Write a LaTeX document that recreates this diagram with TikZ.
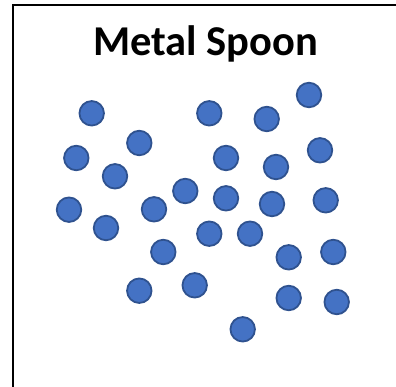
\documentclass[tikz,border=0pt]{standalone}
\usepackage{fontspec}
\setmainfont{Carlito}
\definecolor{atomfill}{RGB}{68, 114, 196}
\definecolor{atomedge}{RGB}{47, 82, 143}
\usetikzlibrary{positioning}

\begin{document}
\begin{tikzpicture}[x=1pt, y=-1pt,
  atom/.style={circle, draw=atomedge, fill=atomfill, line width=1.8pt, minimum size=24.5pt, inner sep=0pt},
  title/.style={font=\fontsize{42.5}{46}\selectfont\bfseries, inner sep=0pt, anchor=base}
]
  \useasboundingbox (0,0) rectangle (396,387);
  \draw[line width=1.3pt] (13,5) rectangle (420,420);
  \node[title] (title) at (205.5, 55.7) {Metal Spoon};
  % particles of the spoon
  \foreach \px/\py [count=\i] in {91.7/113.3, 209.3/113.3, 266.7/119, 309/95, 139.3/143,
      76.3/158, 226/158, 276/167, 320/150.3, 115/176.3, 185.3/191, 226/198.3, 272/204,
      325.7/200.3, 69/209.7, 154/209.3, 106/228, 209.3/233.7, 250/233.7, 163.3/252,
      288.7/257.3, 333.3/252, 139.3/290.7, 194.7/285.3, 288.7/298, 336.7/302, 242.7/329.3}
    \node[atom] (p\i) at (\px, \py) {};
\end{tikzpicture}
\end{document}
